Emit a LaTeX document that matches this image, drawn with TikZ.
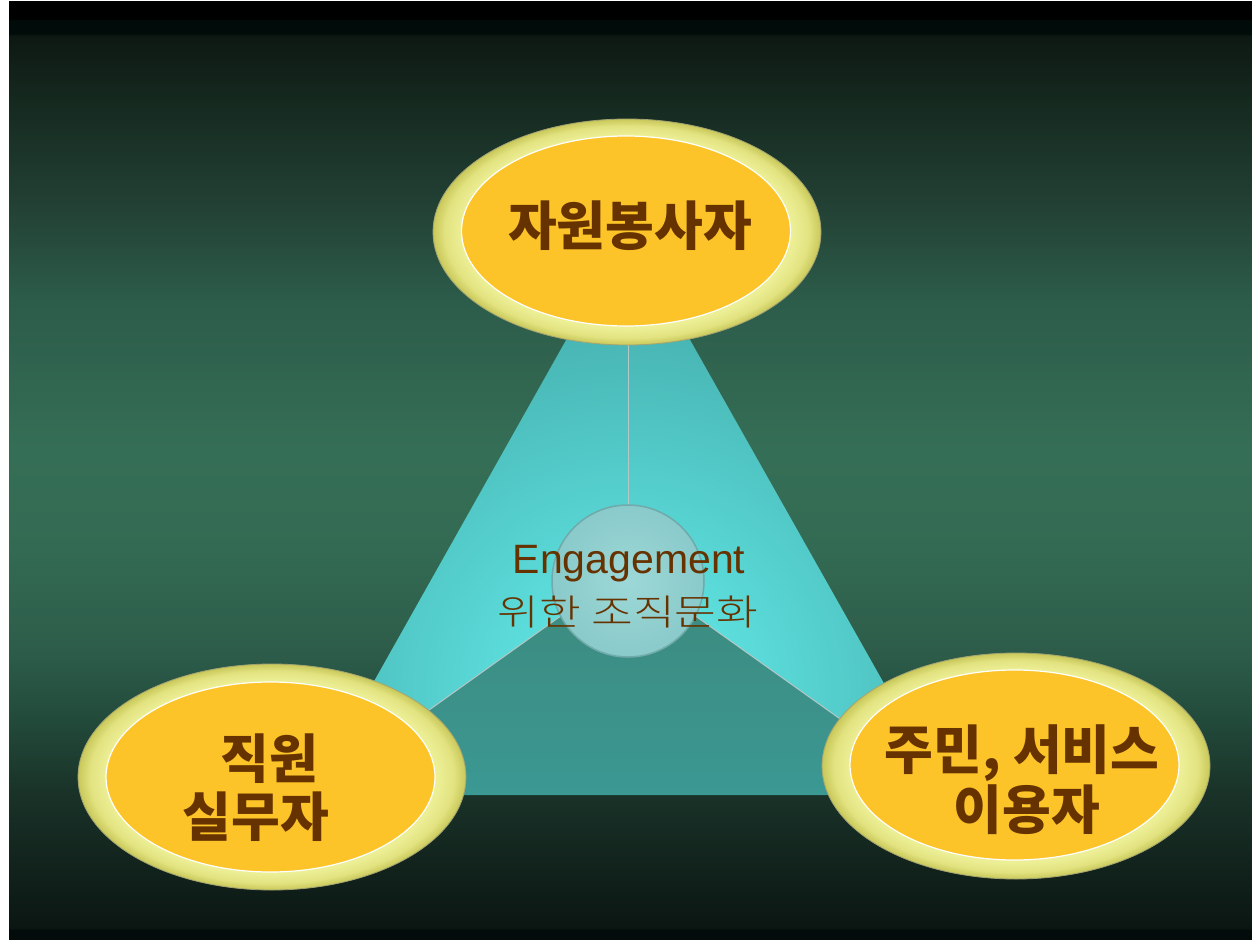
\documentclass[tikz,border=0pt]{standalone}
\usepackage{fontspec}
\setmainfont{Liberation Sans}
\newfontfamily\kr{Noto Sans CJK KR}
\newfontfamily\krlight{Noto Sans CJK KR Light}
\usetikzlibrary{shapes.geometric}

% backdrop colours, top to bottom
\definecolor{bgA}{HTML}{000000}
\definecolor{bgB}{HTML}{010C0A}
\definecolor{bgC}{HTML}{0E1813}
\definecolor{bgD}{HTML}{15291F}
\definecolor{bgE}{HTML}{223F33}
\definecolor{bgF}{HTML}{2C5C4A}
\definecolor{bgG}{HTML}{356E56}
\definecolor{bgH}{HTML}{336A53}
\definecolor{bgI}{HTML}{2D5D4A}
\definecolor{bgJ}{HTML}{224A3B}
\definecolor{bgK}{HTML}{1A3329}
\definecolor{bgL}{HTML}{12241D}
\definecolor{bgM}{HTML}{0B1612}
\definecolor{bgN}{HTML}{030C0A}

\definecolor{faceLight}{HTML}{64EFEE}
\definecolor{faceDark}{HTML}{43AAA8}
\definecolor{floorTop}{HTML}{3D897C}
\definecolor{floorBot}{HTML}{3B9893}
\definecolor{ridgeGray}{HTML}{B4C8C8}
\definecolor{hubIn}{HTML}{9DD8D8}
\definecolor{hubOut}{HTML}{8ACACA}
\definecolor{hubRim}{HTML}{70AAAA}

\definecolor{ringA}{HTML}{F0F29C}
\definecolor{ringB}{HTML}{ECEE94}
\definecolor{ringC}{HTML}{E2E280}
\definecolor{ringD}{HTML}{C8C85A}
\definecolor{ringRim}{HTML}{A4A472}
\definecolor{ovalFill}{HTML}{FCC428}
\definecolor{brownInk}{HTML}{663300}

\pgfdeclareverticalshading{backdrop}{100bp}{%
  color(0bp)=(bgN); color(25bp)=(bgN); color(25.5bp)=(bgN);
  color(25.6bp)=(bgM); color(29.22bp)=(bgL); color(32.95bp)=(bgK);
  color(36.69bp)=(bgJ); color(40.42bp)=(bgI); color(45.76bp)=(bgH);
  color(51.09bp)=(bgG); color(59.1bp)=(bgF); color(64.43bp)=(bgE);
  color(69.77bp)=(bgD); color(73.2bp)=(bgC); color(73.3bp)=(bgB);
  color(74bp)=(bgB); color(74.1bp)=(bgA); color(75bp)=(bgA);
  color(100bp)=(bgA)}

\pgfdeclareradialshading{ringshade}{\pgfpoint{0bp}{0bp}}{%
  color(0bp)=(ringA); color(20bp)=(ringA); color(21.5bp)=(ringB);
  color(23.5bp)=(ringC); color(25bp)=(ringD); color(50bp)=(ringD)}

\begin{document}
\begin{tikzpicture}[x=1pt,y=-1pt,
  ringoval/.style={ellipse, inner sep=0pt, minimum width=388pt,
    minimum height=226pt, shading=ringshade, draw=ringRim, line width=0.8pt},
  coreoval/.style={ellipse, inner sep=0pt, minimum width=329pt,
    minimum height=190pt, fill=ovalFill, draw=white, line width=1.2pt},
  bigtxt/.style={anchor=base, inner sep=0pt, text=brownInk,
    font=\kr\bfseries\fontsize{53}{60}\selectfont},
  midtxt/.style={anchor=base, inner sep=0pt, text=brownInk,
    font=\fontsize{41}{48}\selectfont},
  ridge/.style={draw=ridgeGray, line width=1pt},
  hubdisc/.style={circle, inner sep=0pt, minimum size=152pt,
    inner color=hubIn, outer color=hubOut, draw=hubRim, line width=1.5pt}]

\useasboundingbox (0,0) rectangle (1252,939);
\fill[white] (0,0) rectangle (1252,939);
\shade[shading=backdrop] (9,2) rectangle (1252,939);

% pyramid seen from above
\coordinate (apex) at (628,230);
\coordinate (hub)  at (628,568);
\coordinate (baseL) at (310,795);
\coordinate (baseR) at (947,795);

\begin{scope}
  \clip (apex) -- (baseL) -- (hub) -- cycle
        (apex) -- (hub) -- (baseR) -- cycle;
  \shade[inner color=faceLight, outer color=faceDark] (628,690) circle (430);
\end{scope}
\shade[top color=floorTop, bottom color=floorBot]
  (baseL) -- (hub) -- (baseR) -- cycle;

\draw[ridge] (apex) -- (hub);
\draw[ridge] (hub) -- (baseL);
\draw[ridge] (hub) -- (baseR);

% central disc and its caption
\node[hubdisc] (core) at (628,581) {};
\node[midtxt] (eng) at (629,573) {Engagement};
\node[midtxt, font=\krlight\fontsize{36}{44}\selectfont] (cult) at (628,625)
  {\scalebox{1.26}[1]{위한 조직문화}};

% the three partner ovals
\node[ringoval] (volRing) at (627,232) {};
\node[coreoval] (volCore) at (626,231) {};
\node[bigtxt] (volTxt) at (630,245) {자원봉사자};

\node[ringoval] (staffRing) at (272,777) {};
\node[coreoval] (staffCore) at (270.5,777) {};
\node[bigtxt] (staffTxtA) at (269,778) {직원};
\node[bigtxt] (staffTxtB) at (256,836) {실무자};

\node[ringoval] (userRing) at (1016,766) {};
\node[coreoval] (userCore) at (1014.5,765) {};
\node[bigtxt] (userTxtA) at (1022,769) {주민, 서비스};
\node[bigtxt] (userTxtB) at (1027,829) {이용자};
\end{tikzpicture}
\end{document}
